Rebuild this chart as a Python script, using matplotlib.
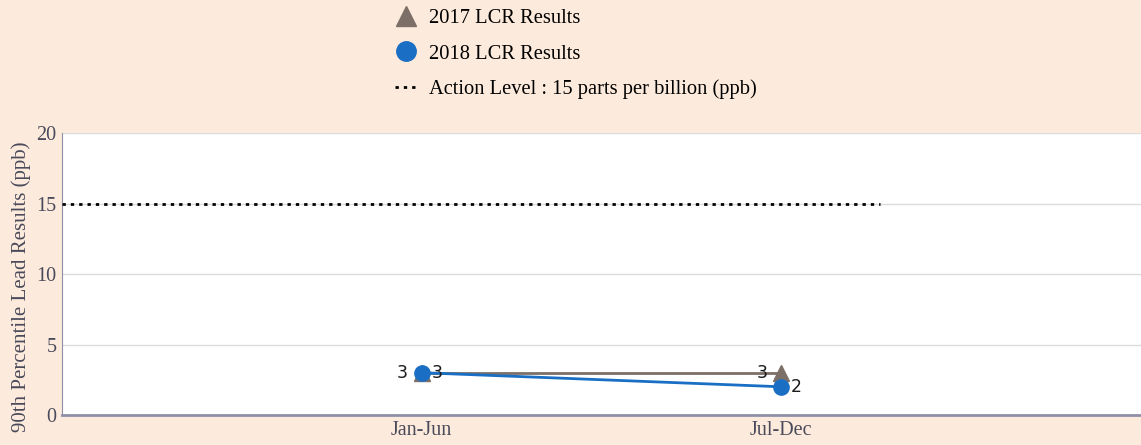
import matplotlib

matplotlib.use("Agg")
import matplotlib.pyplot as plt
from matplotlib.lines import Line2D

# Chart data
periods = ["Jan-Jun", "Jul-Dec"]
results_2017 = [3, 3]
results_2018 = [3, 2]
action_level = 15
action_span = [-1, 1.275]  # category positions covered by the dotted line
y_ticks = [0, 5, 10, 15, 20]

BG = "#fcebdc"
GREY_BROWN = "#7b6f68"
BLUE = "#1a6fc4"
TICK_COLOR = "#4a4a5a"
SERIF = "Liberation Serif"

fig = plt.figure(figsize=(11.41, 4.45), dpi=100, facecolor=BG)
ax = fig.add_axes([62 / 1141, 30 / 445, 1 - 62 / 1141, 282 / 445])
ax.set_facecolor("white")

x = list(range(len(periods)))

# Action level line
ax.plot(action_span, [action_level, action_level], color="black",
        linestyle=(0, (1.2, 1.8)), linewidth=2, zorder=3)

# Series
ax.plot(x, results_2017, color=GREY_BROWN, linewidth=2, marker="^",
        markersize=11, zorder=4)
ax.plot(x, results_2018, color=BLUE, linewidth=2, marker="o",
        markersize=11, zorder=5)

# Point labels: 2017 on the left, 2018 on the right
for xi, v in zip(x, results_2017):
    ax.annotate(str(v), (xi, v), xytext=(-10, 0), textcoords="offset points",
                ha="right", va="center", fontsize=12.5, color="#1a1a1a",
                fontfamily="DejaVu Sans", zorder=6)
for xi, v in zip(x, results_2018):
    ax.annotate(str(v), (xi, v), xytext=(7, 0), textcoords="offset points",
                ha="left", va="center", fontsize=12.5, color="#1a1a1a",
                fontfamily="DejaVu Sans", zorder=6)

ax.set_xlim(-1, 2)
ax.set_ylim(0, 20)
ax.set_yticks(y_ticks)
ax.set_xticks(x)
ax.set_xticklabels(periods)
ax.grid(axis="y", color="#dcdcdc", linewidth=1)
ax.set_axisbelow(True)

for side in ("top", "right"):
    ax.spines[side].set_visible(False)
ax.spines["left"].set_color("#8f8fa8")
ax.spines["bottom"].set_color("#8f8fa8")
ax.spines["bottom"].set_linewidth(2)
ax.tick_params(axis="both", length=0, labelsize=14.5, labelcolor=TICK_COLOR, pad=4)
for lbl in ax.get_xticklabels() + ax.get_yticklabels():
    lbl.set_fontfamily(SERIF)

ax.set_ylabel("90th Percentile Lead Results (ppb)", fontfamily=SERIF,
              fontsize=15, color=TICK_COLOR)
ax.yaxis.set_label_coords(-0.029, 0.455)

# Legend above the plot
handles = [
    Line2D([], [], color=GREY_BROWN, marker="^", markersize=14, linestyle="none"),
    Line2D([], [], color=BLUE, marker="o", markersize=14, linestyle="none"),
    Line2D([], [], color="black", linestyle=(0, (1.2, 1.8)), linewidth=2),
]
labels = ["2017 LCR Results", "2018 LCR Results",
          "Action Level : 15 parts per billion (ppb)"]
fig.legend(handles, labels, loc="upper left", bbox_to_anchor=(376 / 1141, 1.022),
           frameon=False, prop={"family": SERIF, "size": 14.8},
           handlelength=1.1, handletextpad=0.6, labelspacing=0.78)

fig.savefig("out.png", dpi=100, facecolor=BG)
